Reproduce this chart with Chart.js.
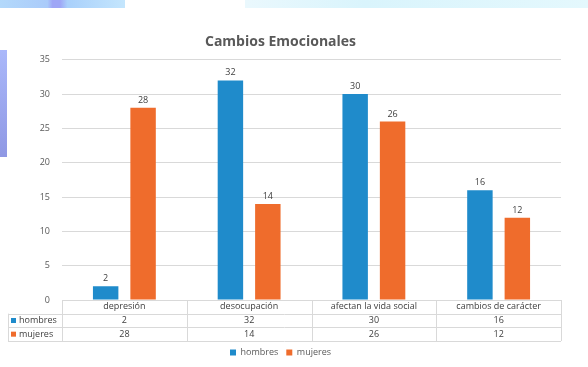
<!DOCTYPE html>
<html>
<head>
<meta charset="utf-8">
<script src="https://cdn.jsdelivr.net/npm/chart.js@4/dist/chart.umd.min.js"></script>
<style>
  html, body { margin: 0; padding: 0; background: #ffffff; }
  body { width: 588px; height: 367px; position: relative; overflow: hidden; }
  .deco { position: absolute; }
  #wrap { position: absolute; left: 0; top: 0; width: 588px; height: 367px; }
</style>
</head>
<body>
<!-- slide decoration behind the chart -->
<div class="deco" style="left:0;top:0;width:125px;height:8px;background:linear-gradient(90deg,#b3d9fb 0%,#aacbfa 38%,#9ea6f6 42%,#9ea6f6 48%,#a9d0fb 54%,#c4e6fd 100%);"></div>
<div class="deco" style="left:245px;top:0;width:343px;height:8px;background:linear-gradient(90deg,#eaf8fd 0%,#d9f4fc 35%,#e4f8fd 100%);"></div>
<div class="deco" style="left:0;top:50px;width:7px;height:107px;background:linear-gradient(180deg,#aab8fa,#8f98e4);"></div>

<div id="wrap"><canvas id="c"></canvas></div>

<script>
const categories = ['depresión', 'desocupación', 'afectan la vida social', 'cambios de carácter'];
const seriesNames = ['hombres', 'mujeres'];
const hombres = [2, 32, 30, 16];
const mujeres = [28, 14, 26, 12];
const yMin = 0, yMax = 35, yStep = 5;

const BLUE = '#1f8bcb';
const ORANGE = '#ef6c2c';
const TEXT = '#595959';
const LINE = '#d9d9d9';

Chart.defaults.font.family = "'Open Sans', 'Liberation Sans', sans-serif";

// value labels above the bars and the data table under the plot
const tablePlugin = {
  id: 'dataTable',
  afterDatasetsDraw(chart) {
    const { ctx, chartArea, scales: { x } } = chart;
    ctx.save();

    // value labels
    ctx.font = "9px 'Open Sans', sans-serif";
    ctx.fillStyle = '#404040';
    ctx.textAlign = 'center';
    ctx.textBaseline = 'bottom';
    chart.data.datasets.forEach((ds, di) => {
      chart.getDatasetMeta(di).data.forEach((bar, i) => {
        ctx.fillText(String(ds.data[i]), bar.x, bar.y - 3);
      });
    });

    // data table
    const tableLeft = 8;
    const top = chartArea.bottom;
    const rowH = 41 / 3;
    const left = chartArea.left, right = chartArea.right;
    const colW = (right - left) / categories.length;

    ctx.strokeStyle = LINE;
    ctx.lineWidth = 1;
    ctx.beginPath();
    // horizontal rules
    ctx.moveTo(left, top + 0.5); ctx.lineTo(right, top + 0.5);
    for (let r = 1; r <= 3; r++) {
      const yy = Math.round(top + r * rowH) + 0.5;
      ctx.moveTo(tableLeft, yy); ctx.lineTo(right, yy);
    }
    // vertical rules
    for (let c = 0; c <= categories.length; c++) {
      const xx = Math.round(left + c * colW) + 0.5;
      ctx.moveTo(xx, top); ctx.lineTo(xx, top + 3 * rowH);
    }
    ctx.moveTo(tableLeft + 0.5, top + rowH); ctx.lineTo(tableLeft + 0.5, top + 3 * rowH);
    ctx.stroke();

    ctx.font = "9px 'Open Sans', sans-serif";
    ctx.fillStyle = '#404040';
    ctx.textBaseline = 'middle';
    ctx.textAlign = 'center';
    categories.forEach((cat, i) => {
      const cx = x.getPixelForValue(i);
      ctx.fillText(cat, cx, top + rowH * 0.5);
      ctx.fillText(String(hombres[i]), cx, top + rowH * 1.5);
      ctx.fillText(String(mujeres[i]), cx, top + rowH * 2.5);
    });

    // row headers with series keys
    const keys = [BLUE, ORANGE];
    ctx.textAlign = 'left';
    seriesNames.forEach((name, r) => {
      const cy = top + rowH * (r + 1.5);
      ctx.fillStyle = keys[r];
      ctx.fillRect(tableLeft + 3, cy - 2.5, 5, 5);
      ctx.fillStyle = '#404040';
      ctx.fillText(name, tableLeft + 11, cy);
    });

    ctx.restore();
  }
};

new Chart(document.getElementById('c'), {
  type: 'bar',
  data: {
    labels: categories,
    datasets: [
      { label: seriesNames[0], data: hombres, backgroundColor: BLUE, borderWidth: 0 },
      { label: seriesNames[1], data: mujeres, backgroundColor: ORANGE, borderWidth: 0 }
    ]
  },
  options: {
    responsive: true,
    maintainAspectRatio: false,
    devicePixelRatio: 1,
    animation: false,
    layout: { padding: { left: 0, right: 27, top: 34, bottom: 0 } },
    datasets: { bar: { categoryPercentage: 0.6, barPercentage: 0.68 } },
    plugins: {
      title: {
        display: true,
        text: 'Cambios Emocionales',
        color: TEXT,
        font: { size: 14, weight: 'bold' },
        padding: { top: 0, bottom: 9 }
      },
      legend: {
        position: 'bottom',
        labels: { boxWidth: 6, boxHeight: 6, padding: 8, color: TEXT, font: { size: 9 } }
      },
      tooltip: { enabled: false }
    },
    scales: {
      x: {
        ticks: { display: false },
        grid: { display: false },
        border: { display: false },
        afterFit(scale) { scale.height = 40; }
      },
      y: {
        min: yMin,
        max: yMax,
        ticks: { stepSize: yStep, color: TEXT, font: { size: 9 }, padding: 12 },
        grid: { color: LINE, drawTicks: false },
        border: { display: false },
        afterFit(scale) { scale.width = 62; }
      }
    }
  },
  plugins: [tablePlugin]
});
</script>
</body>
</html>
